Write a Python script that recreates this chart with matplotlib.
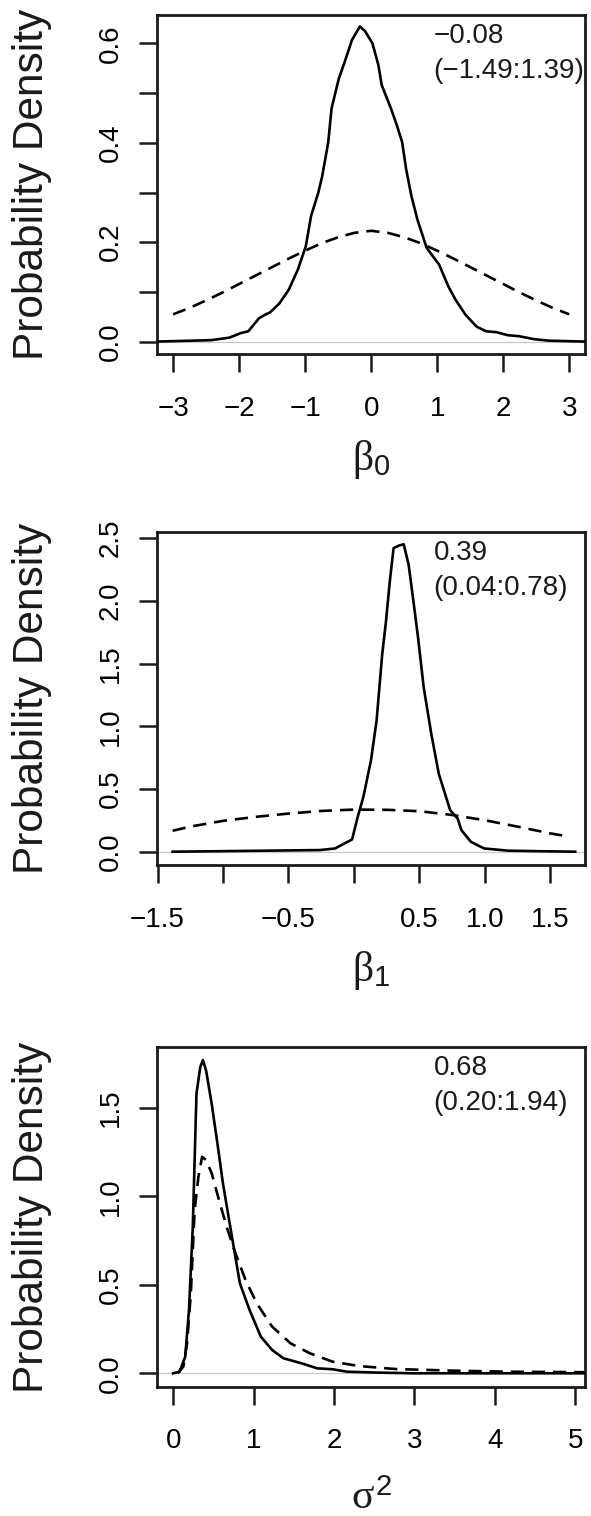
import matplotlib
matplotlib.use("Agg")
import matplotlib.pyplot as plt

plt.rcParams['font.family'] = ['Liberation Sans', 'DejaVu Sans']
plt.rcParams['mathtext.fontset'] = 'custom'
plt.rcParams['mathtext.rm'] = 'Liberation Sans'
plt.rcParams['mathtext.it'] = 'Liberation Serif'

# beta_0: posterior density (solid) and prior (dashed)
b0_post_x = [-3.3, -2.69, -2.47, -2.24, -2.07, -1.90, -1.74, -1.60, -1.43, -1.28,
             -1.17, -1.03, -0.95, -0.84, -0.70, -0.61, -0.53, -0.47, -0.39, -0.30,
             -0.16, -0.11, -0.02, 0.09, 0.17, 0.29, 0.40, 0.49, 0.60, 0.65, 0.74,
             0.80, 0.91, 0.99, 1.11, 1.25, 1.39, 1.53, 1.61, 1.70, 1.86, 1.98,
             2.15, 2.43, 3.3]
b0_post_y = [0.0, 0.002, 0.005, 0.011, 0.013, 0.019, 0.021, 0.030, 0.054, 0.084,
             0.111, 0.155, 0.169, 0.189, 0.246, 0.293, 0.347, 0.401, 0.435, 0.469,
             0.516, 0.556, 0.600, 0.624, 0.634, 0.607, 0.563, 0.529, 0.469, 0.401,
             0.334, 0.300, 0.253, 0.192, 0.145, 0.104, 0.077, 0.059, 0.054, 0.047,
             0.021, 0.017, 0.008, 0.003, 0.0]
b0_post_x = [-v for v in b0_post_x[::-1]]
b0_post_y = b0_post_y[::-1]
b0_prior_x = [-3.0, -2.75, -2.5, -2.25, -2.0, -1.75, -1.5, -1.25, -1.0, -0.75, -0.5,
              -0.25, 0.0, 0.25, 0.5, 0.75, 1.0, 1.25, 1.5, 1.75, 2.0, 2.25, 2.5,
              2.75, 3.0]
b0_prior_y = [0.055, 0.068, 0.083, 0.099, 0.116, 0.133, 0.150, 0.167, 0.183, 0.198,
              0.210, 0.219, 0.223, 0.219, 0.210, 0.198, 0.183, 0.167, 0.150, 0.133,
              0.116, 0.099, 0.083, 0.068, 0.055]

# beta_1
b1_post_x = [-1.385, -0.259, -0.144, -0.072, -0.014, 0.029, 0.072, 0.130, 0.173,
             0.216, 0.245, 0.274, 0.303, 0.346, 0.380, 0.418, 0.461, 0.490, 0.533,
             0.591, 0.648, 0.735, 0.792, 0.821, 0.893, 0.994, 1.181, 1.69]
b1_post_y = [0.0, 0.013, 0.026, 0.066, 0.098, 0.278, 0.437, 0.728, 1.045, 1.574,
             1.839, 2.156, 2.421, 2.442, 2.452, 2.288, 1.944, 1.706, 1.310, 0.939,
             0.622, 0.331, 0.265, 0.172, 0.079, 0.026, 0.008, 0.0]
b1_prior_x = [-1.385, -1.25, -1.0, -0.75, -0.5, -0.25, 0.0, 0.25, 0.5, 0.75, 1.0,
              1.25, 1.5, 1.624]
b1_prior_y = [0.167, 0.200, 0.246, 0.278, 0.304, 0.325, 0.336, 0.334, 0.323, 0.293,
              0.251, 0.200, 0.146, 0.124]

# sigma^2
s2_post_x = [0.0, 0.08, 0.15, 0.197, 0.244, 0.29, 0.337, 0.37, 0.41, 0.48, 0.55,
             0.62, 0.71, 0.83, 0.95, 1.09, 1.23, 1.37, 1.60, 1.79, 1.98, 2.16,
             2.54, 3.0, 5.2]
s2_post_y = [0.0, 0.009, 0.094, 0.358, 0.828, 1.58, 1.73, 1.77, 1.71, 1.52, 1.30,
             1.07, 0.828, 0.508, 0.358, 0.207, 0.132, 0.085, 0.056, 0.028, 0.023,
             0.009, 0.004, 0.0, 0.0]
s2_prior_x = [0.056, 0.127, 0.173, 0.22, 0.267, 0.314, 0.36, 0.41, 0.48, 0.57,
              0.665, 0.76, 0.90, 1.04, 1.23, 1.46, 1.70, 1.98, 2.31, 2.77, 3.48,
              4.18, 5.2]
s2_prior_y = [0.0, 0.038, 0.169, 0.452, 0.922, 1.11, 1.223, 1.205, 1.129, 0.979,
              0.828, 0.696, 0.527, 0.395, 0.264, 0.169, 0.113, 0.066, 0.041, 0.024,
              0.015, 0.009, 0.006]

summaries = [("\u22120.08", "(\u22121.49:1.39)"),
             ("0.39", "(0.04:0.78)"),
             ("0.68", "(0.20:1.94)")]
xlabels = [r"$\beta_0$", r"$\beta_1$", r"$\sigma^2$"]

b0_xticks = [-3, -2, -1, 0, 1, 2, 3]
b0_xticklabels = ["\u22123", "\u22122", "\u22121", "0", "1", "2", "3"]
b0_yticks = [0.0, 0.1, 0.2, 0.3, 0.4, 0.5, 0.6]
b0_yticklabels = ["0.0", "", "0.2", "", "0.4", "", "0.6"]

b1_xticks = [-1.5, -1.0, -0.5, 0.0, 0.5, 1.0, 1.5]
b1_xticklabels = ["\u22121.5", "", "\u22120.5", "", "0.5", "1.0", "1.5"]
b1_yticks = [0.0, 0.5, 1.0, 1.5, 2.0, 2.5]
b1_yticklabels = ["0.0", "0.5", "1.0", "1.5", "2.0", "2.5"]

s2_xticks = [0, 1, 2, 3, 4, 5]
s2_xticklabels = ["0", "1", "2", "3", "4", "5"]
s2_yticks = [0.0, 0.5, 1.0, 1.5]
s2_yticklabels = ["0.0", "0.5", "1.0", "1.5"]

W, H = 591, 1516
fig = plt.figure(figsize=(W / 100, H / 100), dpi=100)

# box positions in pixels: top, bottom
boxes = [(15, 354.3), (531.7, 865), (1047.3, 1386.7)]
left, right = 157.3, 585
limits = [((-3.24, 3.24), (-0.0254, 0.657)),
          ((-1.502, 1.765), (-0.106, 2.552)),
          ((-0.197, 5.12), (-0.0757, 1.842))]
panels = [
    (b0_post_x, b0_post_y, b0_prior_x, b0_prior_y, b0_xticks, b0_xticklabels,
     b0_yticks, b0_yticklabels),
    (b1_post_x, b1_post_y, b1_prior_x, b1_prior_y, b1_xticks, b1_xticklabels,
     b1_yticks, b1_yticklabels),
    (s2_post_x, s2_post_y, s2_prior_x, s2_prior_y, s2_xticks, s2_xticklabels,
     s2_yticks, s2_yticklabels),
]
xlabel_off = [116, 116, 122]
fs = 20

for i, (px, py, qx, qy, xt, xtl, yt, ytl) in enumerate(panels):
    top, bottom = boxes[i]
    ax = fig.add_axes([left / W, 1 - bottom / H, (right - left) / W, (bottom - top) / H])
    ax.axhline(0, color="#c8c8c8", lw=0.9, zorder=1)
    ax.plot(qx, qy, color="black", lw=1.9, ls=(0, (5, 3)), zorder=2)
    ax.plot(px, py, color="black", lw=1.9, zorder=3)
    ax.set_xlim(*limits[i][0])
    ax.set_ylim(*limits[i][1])
    ax.set_xticks(xt)
    ax.set_xticklabels(xtl, fontsize=fs)
    ax.set_yticks(yt)
    ax.set_yticklabels(ytl, fontsize=fs, rotation=90, va="center")
    ax.tick_params(direction="out", length=13, width=1.8, color="#1a1a1a")
    ax.tick_params(axis="x", pad=17)
    ax.tick_params(axis="y", pad=11)
    for sp in ax.spines.values():
        sp.set_linewidth(2)
        sp.set_color("#1a1a1a")

    ax.annotate(summaries[i][0], xy=(0.646, 1), xycoords="axes fraction",
                xytext=(0, -21 * 0.72), textcoords="offset points",
                ha="left", va="center", fontsize=fs, color="#1a1a1a")
    ax.annotate(summaries[i][1], xy=(0.646, 1), xycoords="axes fraction",
                xytext=(0, -56 * 0.72), textcoords="offset points",
                ha="left", va="center", fontsize=fs, color="#1a1a1a")
    ax.annotate("Probability Density", xy=(0, 0.5), xycoords="axes fraction",
                xytext=(-(left - 32) * 0.72, 0), textcoords="offset points",
                rotation=90, ha="center", va="center", fontsize=30.5, color="#1a1a1a")
    ax.annotate(xlabels[i], xy=(0.5, 0), xycoords="axes fraction",
                xytext=(0, -xlabel_off[i] * 0.72), textcoords="offset points",
                ha="center", va="baseline", fontsize=30, color="#1a1a1a")

fig.savefig("out.png", dpi=100)
